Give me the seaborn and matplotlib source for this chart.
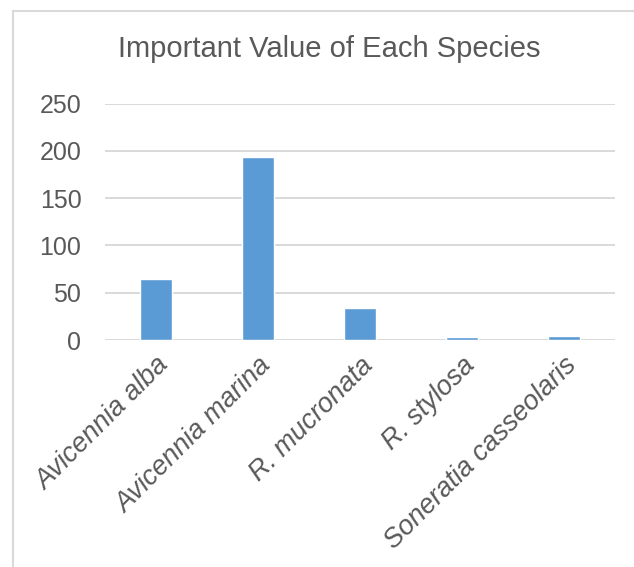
import matplotlib

matplotlib.use("Agg")
import matplotlib.pyplot as plt
from matplotlib.lines import Line2D
import seaborn as sns

species = ["Avicennia alba", "Avicennia marina", "R. mucronata", "R. stylosa", "Soneratia casseolaris"]
important_value = [64.2, 193.1, 34.3, 2.8, 3.7]
y_ticks = [0, 50, 100, 150, 200, 250]

sns.set_style("white")
plt.rcParams["font.family"] = ["Liberation Sans", "DejaVu Sans"]

text_color = "#595959"
grid_color = "#D9D9D9"

fig = plt.figure(figsize=(6.34, 5.67), dpi=100)
ax = fig.add_axes([105 / 634, 1 - 340 / 567, 510 / 634, (340 - 103.5) / 567])

sns.barplot(x=species, y=important_value, ax=ax, color="#5B9BD5", width=0.31, saturation=1, zorder=3)

ax.set_ylim(0, 250)
ax.set_yticks(y_ticks)
ax.set_xlim(-0.5, len(species) - 0.5)
ax.yaxis.grid(True, color=grid_color, linewidth=1.4, zorder=0)
ax.set_axisbelow(True)
for s in ax.spines.values():
    s.set_visible(False)
ax.tick_params(axis="both", length=0, colors=text_color, labelsize=18)
ax.tick_params(axis="y", pad=17)
ax.set_xticks(range(len(species)))
ax.set_xticklabels(species, rotation=45, ha="right", va="top", rotation_mode="anchor",
                   style="italic", fontsize=19.5)
ax.tick_params(axis="x", pad=9)

fig.text(0.52, 1 - 49 / 567, "Important Value of Each Species", ha="center", va="center",
         fontsize=21, color=text_color)

# chart frame (top and left edges visible)
fig.add_artist(Line2D([13 / 634, 1], [1 - 11 / 567, 1 - 11 / 567], color=grid_color, linewidth=1.5,
                      transform=fig.transFigure))
fig.add_artist(Line2D([13 / 634, 13 / 634], [0, 1 - 11 / 567], color=grid_color, linewidth=1.5,
                      transform=fig.transFigure))

fig.savefig("out.png", dpi=100)
plt.close(fig)
